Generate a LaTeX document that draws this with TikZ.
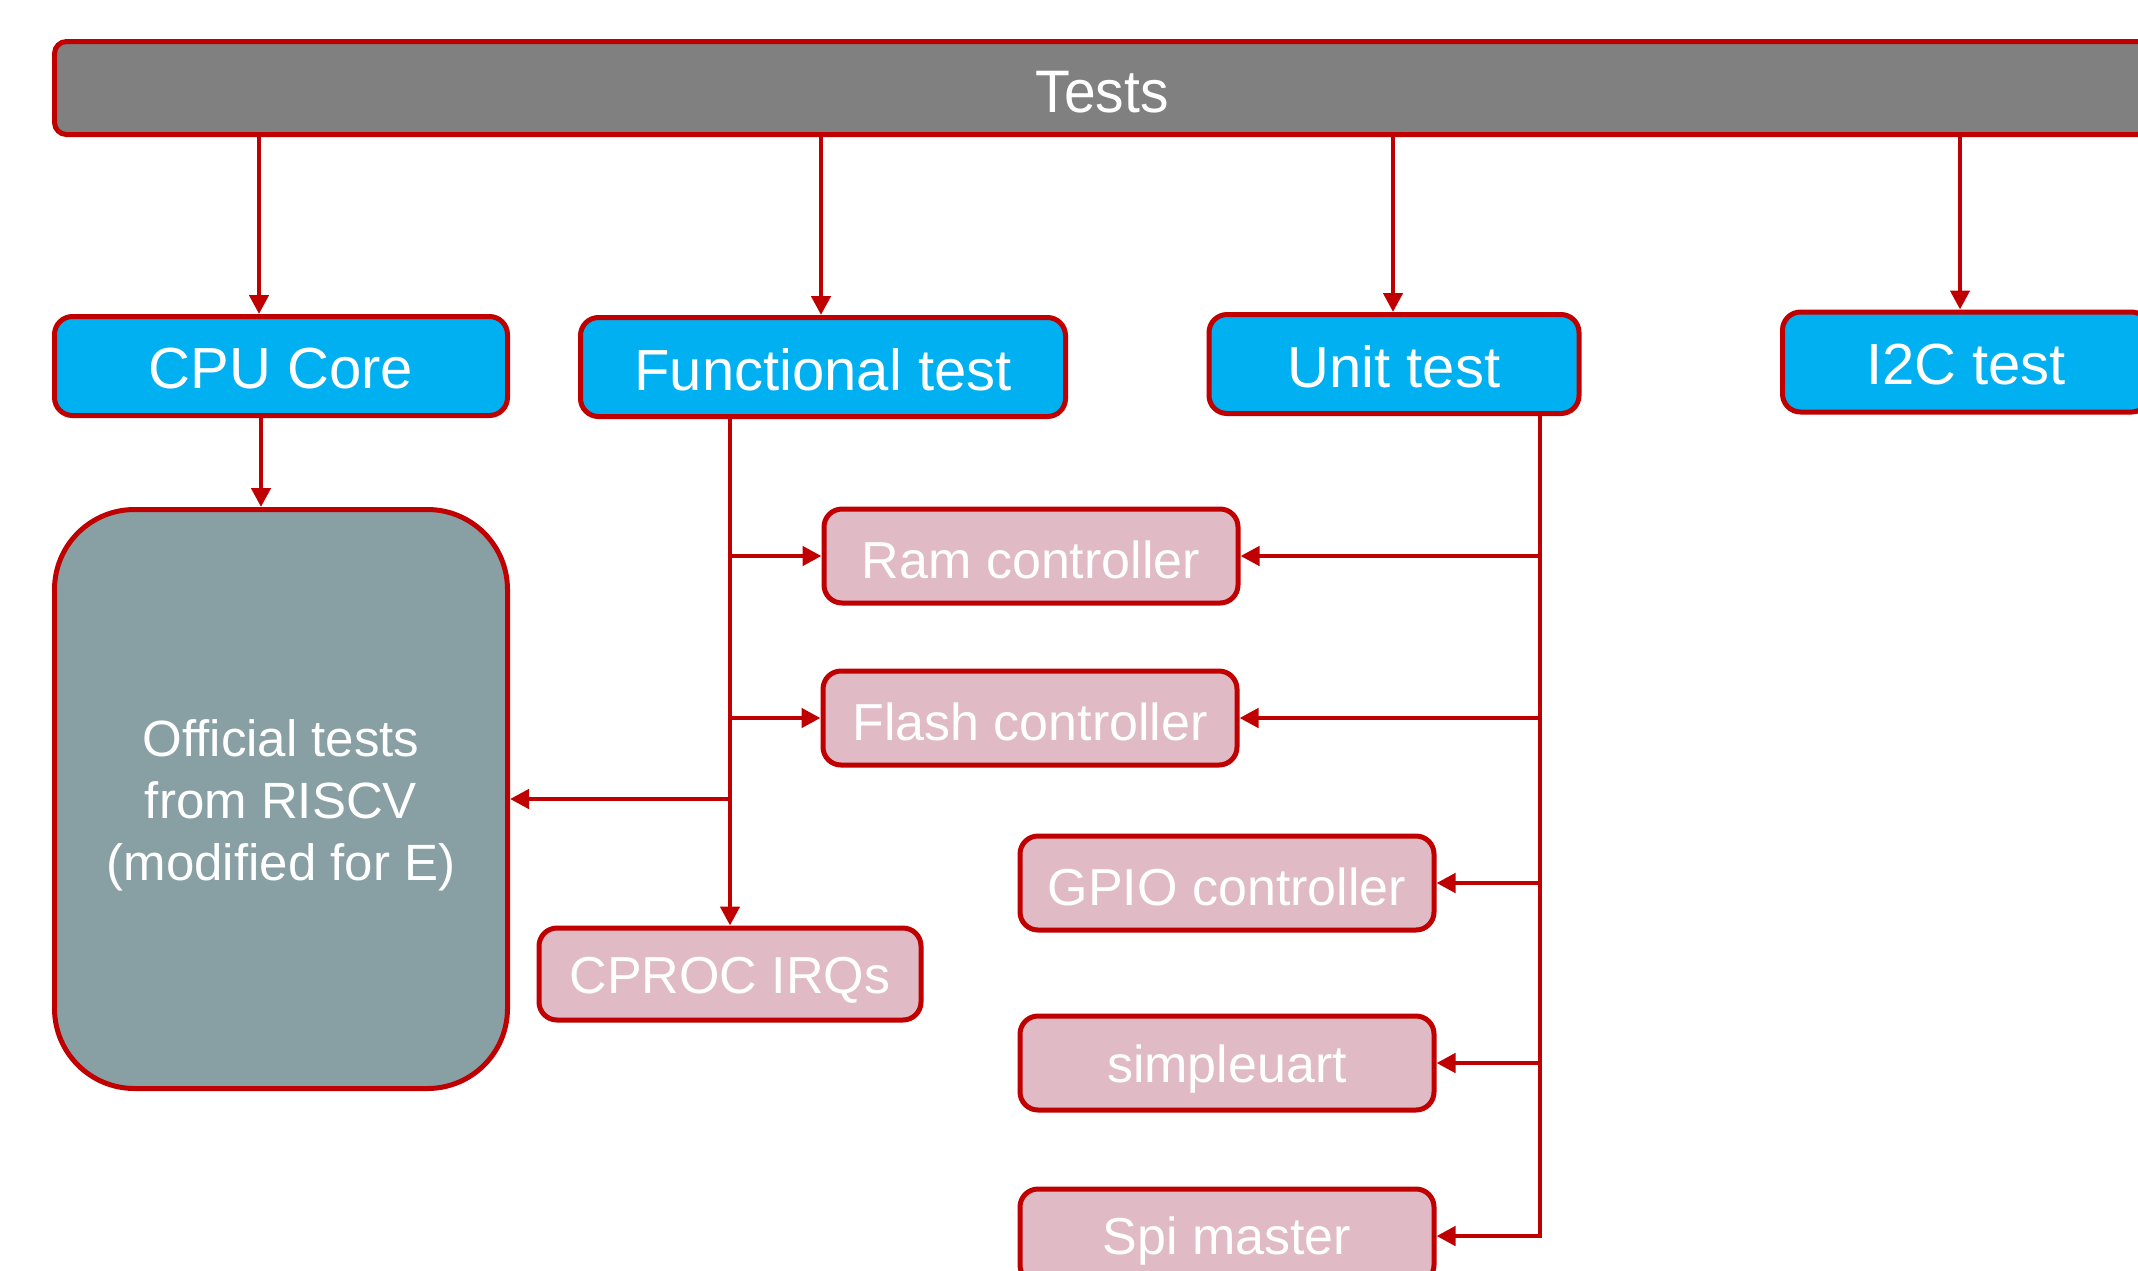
\documentclass[tikz,border=0pt]{standalone}
\usepackage{fontspec}
\setmainfont{Liberation Sans}
\usetikzlibrary{arrows.meta,calc}
\definecolor{edgered}{HTML}{C00000}
\definecolor{bargray}{HTML}{808080}
\definecolor{cyanbox}{HTML}{00B0F0}
\definecolor{pinkbox}{HTML}{E0BAC4}
\definecolor{slatebox}{HTML}{88A0A3}
% draw a label a little below the box centre, keeping its nominal size
\newcommand{\droptext}[2]{\raisebox{-#1pt}[\height][\depth]{#2}}
\tikzset{
  box/.style={draw=edgered, line width=5pt, rounded corners=18pt, text=white,
    inner sep=0pt, align=center},
  topbox/.style={box, fill=cyanbox, font=\fontsize{58}{70}\selectfont},
  subbox/.style={box, fill=pinkbox, font=\fontsize{52}{60}\selectfont,
    minimum width=414pt, minimum height=94pt},
  link/.style={draw=edgered, line width=4.5pt,
    -{Triangle[length=19pt,width=19pt]}},
}
\begin{document}
\begin{tikzpicture}[x=1pt,y=-1pt]
\useasboundingbox (0,0) rectangle (2138,1270);
\clip (0,0) rectangle (2138,1270);

% header bar
\node[box, fill=bargray, rounded corners=12pt, minimum width=2095pt,
  minimum height=93pt, font=\fontsize{60}{70}\selectfont]
  (tests) at (1102,88) {\droptext{4}{\scalebox{0.95}[1]{Tests}}};

% test groups
\node[topbox, minimum width=453pt, minimum height=99pt] (cpu)  at (281,366)  {\droptext{3}{CPU Core}};
\node[topbox, minimum width=485pt, minimum height=99pt] (func) at (823,367)  {\droptext{3}{Functional test}};
\node[topbox, minimum width=370pt, minimum height=99pt] (unit) at (1394,364) {\droptext{3}{Unit test}};
\node[topbox, minimum width=367pt, minimum height=100pt] (i2c) at (1966,362) {\droptext{3}{I2C test}};

% official suite
\node[box, fill=slatebox, rounded corners=80pt, minimum width=453pt,
  minimum height=579pt, font=\fontsize{51}{62}\selectfont]
  (official) at (281,799)
  {\droptext{7}{\begin{tabular}{@{}c@{}}Official tests\\from RISCV\\(modified for E)\end{tabular}}};

% peripheral tests
\node[subbox] (ram)   at (1031,556)  {\droptext{4}{Ram controller}};
\node[subbox] (flash) at (1030,718)  {\droptext{4}{Flash controller}};
\node[subbox] (gpio)  at (1227,883)  {\droptext{4}{GPIO controller}};
\node[subbox] (uart)  at (1227,1063) {\droptext{6}{simpleuart}};
\node[subbox] (spi)   at (1227,1236) {\droptext{5}{Spi master}};
\node[subbox, minimum width=382pt, minimum height=92pt] (cproc) at (730,974) {\droptext{6}{CPROC IRQs}};

% drop points from the header bar
\coordinate (xcpu) at (259,0);
\coordinate (xfun) at (821,0);
\coordinate (xuni) at (1393,0);
\coordinate (xi2c) at (1960,0);
\coordinate (xoff) at (261,0);
\coordinate (xbus) at (1540,0);

\draw[link] (tests.south -| xcpu) -- (cpu.north -| xcpu);
\draw[link] (tests.south -| xfun) -- (func.north -| xfun);
\draw[link] (tests.south -| xuni) -- (unit.north -| xuni);
\draw[link] (tests.south -| xi2c) -- (i2c.north -| xi2c);

\draw[link] (cpu.south -| xoff) -- (official.north -| xoff);

% functional test bus
\draw[link] (func.south -| cproc.north) -- (cproc.north);
\draw[link] (ram.west -| cproc.north) -- (ram.west);
\draw[link] (flash.west -| cproc.north) -- (flash.west);
\draw[link] (official.east -| cproc.north) -- (official.east);

% unit test bus
\draw[link] (unit.south -| xbus) |- (spi.east);
\draw[link] (ram.east -| xbus) -- (ram.east);
\draw[link] (flash.east -| xbus) -- (flash.east);
\draw[link] (gpio.east -| xbus) -- (gpio.east);
\draw[link] (uart.east -| xbus) -- (uart.east);
\end{tikzpicture}
\end{document}
